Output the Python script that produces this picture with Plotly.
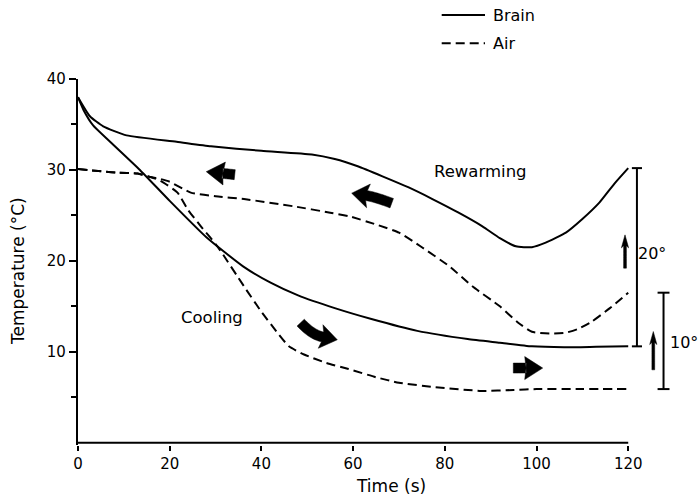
import plotly.graph_objects as go
import numpy as np

# ---------------- data ----------------
brain_rewarm_t = [0, 2.6, 5.5, 10.6, 21.5, 29, 40, 51, 56, 61, 66.4, 72, 77.3, 83, 88.2, 92, 95.5, 99, 102, 106.4, 110, 113.7, 117, 120]
brain_rewarm_T = [38.0, 35.9, 34.8, 33.8, 33.1, 32.6, 32.1, 31.7, 31.2, 30.4, 29.3, 28.1, 26.8, 25.3, 23.8, 22.5, 21.6, 21.5, 22.0, 23.1, 24.6, 26.4, 28.5, 30.2]

brain_cool_t = [0, 1.2, 3.3, 7, 13.5, 20, 28, 36, 42, 48, 56, 64, 74, 85, 92, 99, 106, 113, 120]
brain_cool_T = [38.0, 36.6, 34.9, 33.1, 30.0, 26.6, 22.6, 19.4, 17.6, 16.2, 14.8, 13.6, 12.3, 11.4, 11.0, 10.6, 10.5, 10.55, 10.6]

air_rewarm_t = [0, 8.4, 13, 16, 18, 20, 24.6, 30, 36.2, 47, 55, 59.2, 65, 70, 75, 81, 86, 92, 96, 99, 103, 106.4, 109, 112, 116, 120]
air_rewarm_T = [30.1, 29.7, 29.6, 29.2, 29.0, 28.7, 27.5, 27.1, 26.8, 26.0, 25.3, 24.9, 24.0, 23.1, 21.5, 19.4, 17.2, 15.0, 13.2, 12.2, 12.0, 12.1, 12.5, 13.3, 14.8, 16.5]

air_cool_t = [0, 8.4, 13, 16, 18, 21.7, 24, 26.8, 30.4, 36.2, 40, 43.5, 46, 49.3, 54, 59, 65, 70, 78, 88, 95, 100, 110, 120]
air_cool_T = [30.1, 29.7, 29.6, 29.2, 28.8, 27.5, 25.6, 23.8, 21.6, 17.2, 14.4, 12.1, 10.6, 9.7, 8.8, 8.1, 7.2, 6.6, 6.1, 5.7, 5.8, 5.9, 5.9, 5.9]

x_ticks = [0, 20, 40, 60, 80, 100, 120]
y_ticks = [10, 20, 30, 40]
y_minor_ticks = [5, 15, 25, 35]
legend_names = ["Brain", "Air"]
phase_labels = ["Rewarming", "Cooling"]
phase_label_pos = [(87.8, 29.8), (29.2, 13.8)]
bar_labels = ["20°", "10°"]

# ---------------- layout geometry ----------------
W, H = 700, 497
ML, MR, MT, MB = 78, 3, 79, 52
XR = [0, 135]
YR = [-0.25, 40]
PW = W - ML - MR
PH = H - MT - MB
SX = PW / (XR[1] - XR[0])   # px per second
SY = PH / (YR[1] - YR[0])   # px per degree

FONT = "DejaVu Sans"
BLACK = "black"
DASH = "9px,5px"

fig = go.Figure()
line_solid = dict(color=BLACK, width=2, shape="spline", smoothing=0.5)
line_dash = dict(color=BLACK, width=2, shape="spline", smoothing=0.5, dash=DASH)
fig.add_trace(go.Scatter(x=brain_rewarm_t, y=brain_rewarm_T, mode="lines", line=line_solid, name="Brain (rewarming)", showlegend=False))
fig.add_trace(go.Scatter(x=brain_cool_t, y=brain_cool_T, mode="lines", line=line_solid, name="Brain (cooling)", showlegend=False))
fig.add_trace(go.Scatter(x=air_rewarm_t, y=air_rewarm_T, mode="lines", line=line_dash, name="Air (rewarming)", showlegend=False))
fig.add_trace(go.Scatter(x=air_cool_t, y=air_cool_T, mode="lines", line=line_dash, name="Air (cooling)", showlegend=False))

shapes = []
# x axis line only from 0 to 120
shapes.append(dict(type="line", xref="x", yref="y", x0=x_ticks[0], x1=x_ticks[-1], y0=0, y1=0,
                   line=dict(color=BLACK, width=2.2)))


# ---------------- block arrows ----------------
def arrow_path(tail, tip, ctrl=None, shaft_hw=4.5, head_hw=11, head_len=16):
    # work in pixel space (y up)
    P = lambda p: np.array([p[0] * SX, p[1] * SY])
    t0, t1 = P(tail), P(tip)
    c = P(ctrl) if ctrl is not None else (t0 + t1) / 2
    d = t1 - c
    d = d / np.linalg.norm(d)
    base = t1 - d * head_len
    n_end = np.array([-d[1], d[0]])
    s = np.linspace(0, 1, 16)
    pts = [(1 - u) ** 2 * t0 + 2 * (1 - u) * u * c + u ** 2 * base for u in s]
    left, right = [], []
    for i, p in enumerate(pts):
        if i < len(pts) - 1:
            tg = pts[i + 1] - p
        else:
            tg = p - pts[i - 1]
        tg = tg / np.linalg.norm(tg)
        nn = np.array([-tg[1], tg[0]])
        left.append(p + nn * shaft_hw)
        right.append(p - nn * shaft_hw)
    poly = left + [base + n_end * head_hw - d * 2, t1, base - n_end * head_hw - d * 2] + right[::-1]
    path = "M " + " L ".join(f"{q[0] / SX:.4f},{q[1] / SY:.4f}" for q in poly) + " Z"
    return path


arrow_defs = [
    dict(tail=(34.18, 29.48), tip=(27.98, 29.81), shaft_hw=5, head_hw=11.5),
    dict(tail=(68.42, 26.34), ctrl=(64.77, 27.03), tip=(59.69, 27.44), head_len=15, shaft_hw=5, head_hw=12),
    dict(tail=(48.57, 13.21), ctrl=(51.03, 11.87), tip=(56.55, 11.32), head_len=15, shaft_hw=5, head_hw=12),
    dict(tail=(94.94, 8.21), tip=(101.35, 8.21), shaft_hw=5, head_hw=11.5),
    dict(tail=(119.30, 19.20), tip=(119.30, 22.86), shaft_hw=1.4, head_hw=3.6, head_len=11),
    dict(tail=(125.47, 8.02), tip=(125.47, 12.23), shaft_hw=1.4, head_hw=3.6, head_len=11),
]
for a in arrow_defs:
    shapes.append(dict(type="path", xref="x", yref="y", path=arrow_path(**a),
                       fillcolor=BLACK, line=dict(color=BLACK, width=0.5)))

# ---------------- scale bars (from series end values) ----------------
bar_x = [121.9, 127.7]
bar_cap = [1.1, 1.3]
bar_ranges = [(brain_cool_T[-1], brain_rewarm_T[-1]), (air_cool_T[-1], air_rewarm_T[-1])]
for bx, cap, (lo, hi) in zip(bar_x, bar_cap, bar_ranges):
    shapes.append(dict(type="line", xref="x", yref="y", x0=bx, x1=bx, y0=lo, y1=hi, line=dict(color=BLACK, width=2)))
    for yy in (lo, hi):
        shapes.append(dict(type="line", xref="x", yref="y", x0=bx - cap, x1=bx + cap, y0=yy, y1=yy,
                           line=dict(color=BLACK, width=2)))

annotations = []
bar_label_pos = [(125.1, 20.85), (132.2, 10.99)]
for lab, (lx, ly) in zip(bar_labels, bar_label_pos):
    annotations.append(dict(x=lx, y=ly, xref="x", yref="y", text=lab, showarrow=False,
                            font=dict(family=FONT, size=16, color=BLACK), xanchor="center", yanchor="middle"))
for lab, (lx, ly) in zip(phase_labels, phase_label_pos):
    annotations.append(dict(x=lx, y=ly, xref="x", yref="y", text=lab, showarrow=False,
                            font=dict(family=FONT, size=16.5, color=BLACK), xanchor="center", yanchor="middle"))

# ---------------- manual legend (paper coords) ----------------
def px_to_paper(px, py):
    return (px - ML) / PW, (H - MB - py) / PH

leg_rows_py = [15, 43.3]
leg_dash = [None, DASH]
for name, py, dsh in zip(legend_names, leg_rows_py, leg_dash):
    x0, y0 = px_to_paper(441.7, py)
    x1, _ = px_to_paper(485, py)
    ln = dict(color=BLACK, width=2)
    if dsh:
        ln["dash"] = dsh
    shapes.append(dict(type="line", xref="paper", yref="paper", x0=x0, x1=x1, y0=y0, y1=y0, line=ln))
    tx, _ = px_to_paper(491, py)
    annotations.append(dict(x=tx, y=y0, xref="paper", yref="paper", text=name, showarrow=False,
                            font=dict(family=FONT, size=16, color=BLACK), xanchor="left", yanchor="middle"))

# axis titles
xt = px_to_paper(391, 486)
annotations.append(dict(x=xt[0], y=xt[1], xref="paper", yref="paper", text="Time (s)", showarrow=False,
                        font=dict(family=FONT, size=17, color=BLACK), xanchor="center", yanchor="middle"))
yt = px_to_paper(18, 271)
annotations.append(dict(x=yt[0], y=yt[1], xref="paper", yref="paper", text="Temperature (°C)", showarrow=False,
                        textangle=-90, font=dict(family=FONT, size=17, color=BLACK), xanchor="center", yanchor="middle"))

fig.update_layout(
    width=W, height=H,
    margin=dict(l=ML, r=MR, t=MT, b=MB, pad=0),
    paper_bgcolor="white", plot_bgcolor="white",
    font=dict(family=FONT, color=BLACK),
    showlegend=False,
    shapes=shapes,
    annotations=annotations,
    xaxis=dict(range=XR, showline=False, showgrid=False, zeroline=False,
               tickmode="array", tickvals=x_ticks, ticks="outside", ticklen=5, tickwidth=2,
               tickcolor=BLACK, tickfont=dict(family=FONT, size=15, color=BLACK)),
    yaxis=dict(range=YR, showline=True, linewidth=2.2, linecolor=BLACK, showgrid=False, zeroline=False,
               tickmode="array", tickvals=y_ticks, ticks="outside", ticklen=7, tickwidth=2,
               tickcolor=BLACK, tickfont=dict(family=FONT, size=15, color=BLACK),
               minor=dict(tickmode="array", tickvals=y_minor_ticks, ticks="outside", ticklen=5,
                          tickwidth=1.5, tickcolor=BLACK, showgrid=False)),
)

fig.write_html("out.html", config={"displayModeBar": False})
